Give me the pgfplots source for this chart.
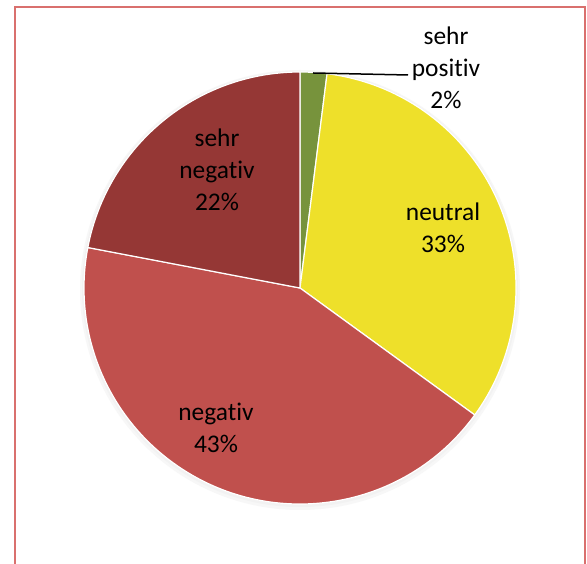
\documentclass[border=0pt]{standalone}
\usepackage{pgfplots}
\usepackage{pgfplotstable}
\usepackage{fontspec}
\setmainfont{Carlito}[Ligatures={NoCommon}]
\pgfplotsset{compat=1.18}
\definecolor{SliceGreen}{HTML}{77933C}
\definecolor{SliceYellow}{HTML}{EEE02A}
\definecolor{SliceRed}{HTML}{C0504D}
\definecolor{SliceDark}{HTML}{953735}
\definecolor{FrameRed}{HTML}{D9706E}

% shares in percent, clockwise from 12 o'clock
\pgfplotstableread{
label          value
sehr-positiv   2
neutral        33
negativ        43
sehr-negativ   22
}\piedata

\newcommand\getv[2]{\pgfplotstablegetelem{#1}{value}\of\piedata\global\let#2\pgfplotsretval}
\getv{0}\vA \getv{1}\vB \getv{2}\vC \getv{3}\vD
\pgfmathsetmacro\aA{90}
\pgfmathsetmacro\aB{\aA-3.6*\vA}
\pgfmathsetmacro\aC{\aB-3.6*\vB}
\pgfmathsetmacro\aD{\aC-3.6*\vC}
\pgfmathsetmacro\aE{\aD-3.6*\vD}

% slice from angle #1 to #2, fill #3
\newcommand\slice[3]{%
  \fill[#3, draw=white, line width=1.2bp, line join=round]
    (axis cs:300,276) -- ([shift={(#1:216bp)}]axis cs:300,276)
    arc[start angle=#1, end angle=#2, radius=216bp] -- cycle;}

\begin{document}
\begin{tikzpicture}
\begin{axis}[
  width=587bp, height=564bp, scale only axis,
  xmin=0, xmax=587, ymin=0, ymax=564,
  hide axis
]
\fill[white] (axis cs:0,0) rectangle (axis cs:587,564);
\draw[FrameRed, line width=2bp] (axis cs:14.5,0) -- (axis cs:14.5,556.5)
  -- (axis cs:585,556.5) -- (axis cs:585,0);
% faint shadow
\fill[black!3] (axis cs:300,274) circle[radius=220bp];
\fill[black!5] (axis cs:300,275) circle[radius=218bp];
\fill[white] (axis cs:300,276) circle[radius=216bp];

\slice{\aA}{\aB}{SliceGreen}
\slice{\aB}{\aC}{SliceYellow}
\slice{\aC}{\aD}{SliceRed}
\slice{\aD}{\aE}{SliceDark}

\draw[black, line width=1.5bp] (axis cs:313,491) -- (axis cs:408,489);

\begin{scope}[every node/.style={align=center, font=\fontsize{25.5}{32}\selectfont, inner sep=0pt}]
\node at (axis cs:446,496) {sehr\\positiv\\2\%};
\node at (axis cs:443,336) {neutral\\33\%};
\node at (axis cs:216,136) {negativ\\43\%};
\node at (axis cs:217,394) {sehr\\negativ\\22\%};
\end{scope}
\end{axis}
\end{tikzpicture}
\end{document}
